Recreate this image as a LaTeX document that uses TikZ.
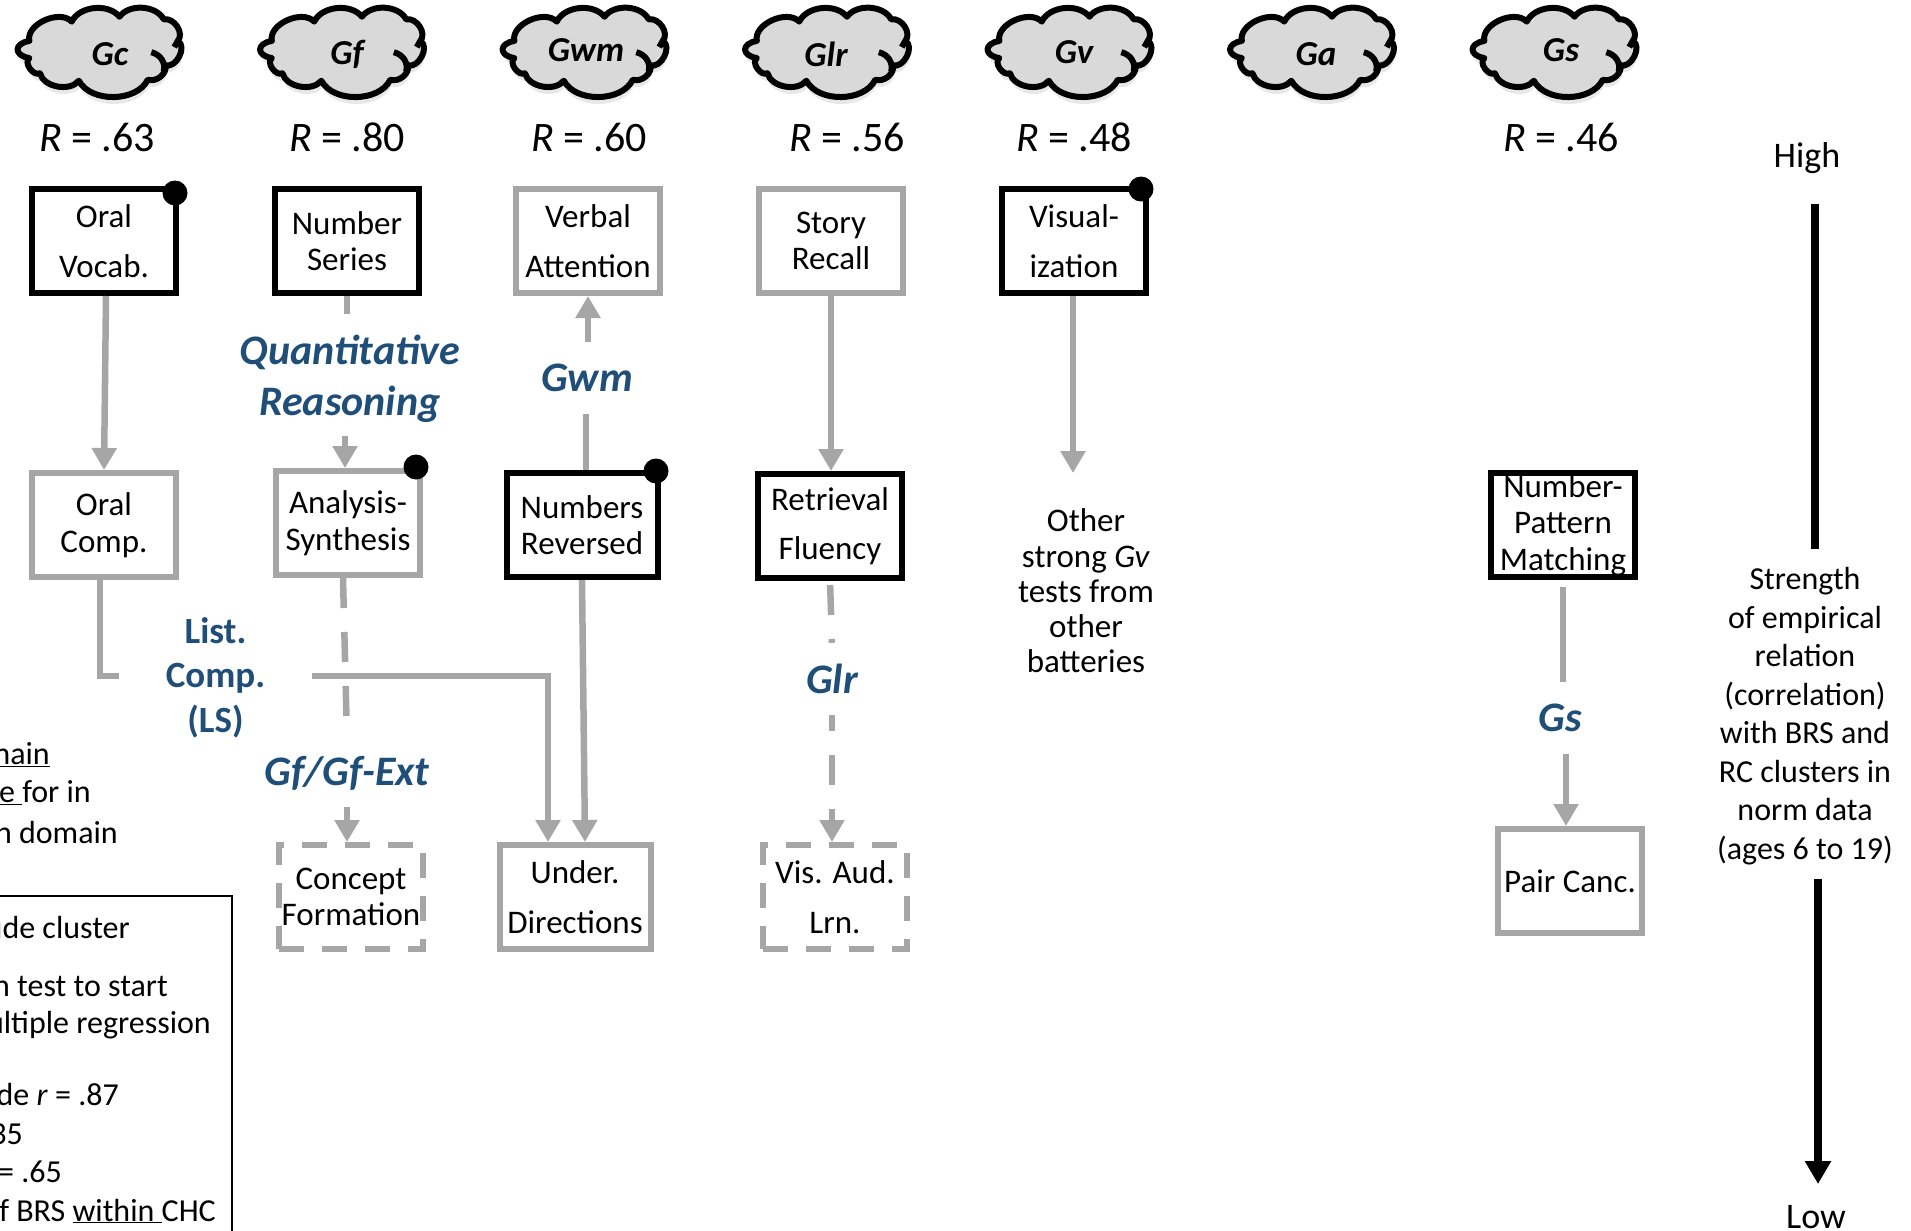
\documentclass[tikz,border=0pt]{standalone}
\usepackage{fontspec}
\setmainfont{Carlito}
\usetikzlibrary{arrows.meta}
\usetikzlibrary{calc}
\usetikzlibrary{shadows}
\definecolor{linegrey}{HTML}{A6A6A6}
\definecolor{labelblue}{HTML}{1F4E79}
\definecolor{cloudgrey}{HTML}{D9D9D9}
\newcommand\boxfont{\fontsize{33}{36.5}\selectfont}
\newcommand\sidefont{\fontsize{32}{38.5}\selectfont}
\def\xsep{242.5}
\def\cloudY{50}
\def\rvalY{137}
\def\wide{13pt}

\begin{document}
\begin{tikzpicture}[
    x=1pt,y=-1pt,
    line join=miter,
    arrowtip/.style={
      -{Triangle[length=22pt,width=24pt]}
    },
    testbox/.style={
      rectangle, fill=white, line width=6pt, align=center, inner sep=0pt,
      minimum width=144pt, minimum height=104pt, font=\boxfont
    },
    strongbox/.style={testbox, draw=black},
    greybox/.style={testbox, draw=linegrey},
    dashbox/.style={testbox, draw=linegrey, dash pattern=on 25pt off 18pt},
    conn/.style={draw=linegrey, line width=6.5pt},
    dashconn/.style={conn, dash pattern=on 30pt off 24pt},
    scaleline/.style={draw=black, line width=8.5pt},
    chclabel/.style={
      text=labelblue, align=center, inner sep=0pt, minimum height=72pt,
      font=\fontsize{42}{51}\selectfont\bfseries\itshape
    },
    cloudtext/.style={font=\fontsize{35}{40}\selectfont\bfseries\itshape, inner sep=0pt},
    rval/.style={font=\fontsize{42}{46}\selectfont, inner sep=0pt},
    sidetext/.style={font=\sidefont, inner sep=0pt},
    clipline/.style={font=\sidefont, inner sep=0pt, anchor=east},
    dotmark/.style={circle, fill=black, inner sep=0pt, minimum size=25pt},
    gcloud/.pic={
      \path[draw=black, line width=6pt, fill=cloudgrey, line join=round,
        drop shadow={shadow xshift=1pt, shadow yshift=-7pt, opacity=.18},
        drop shadow={shadow xshift=1pt, shadow yshift=-3pt, opacity=.35}]
        (-65.7,-9.3) to[bend left=75] (-25.7,-29.3)
        to[bend left=60] (19.3,-34.3)
        to[bend left=60] (61,-31.7)
        to[bend left=70] (74.3,-9.3)
        to[bend left=85] (62.7,15.7)
        to[bend left=60] (46,30.7)
        to[bend left=65] (-19,31.7)
        to[bend left=65] (-55.7,24)
        to[bend left=85] (-65.7,8.3)
        to[out=170,in=190,looseness=2.2] cycle;
      \draw[black, line width=6pt] (49.3,2.3) to[bend left=45] (61,22);
      \draw[black, line width=6pt] (74.3,-9.3) -- (71,-3);
    }
  ]
    \useasboundingbox (0,0) rectangle (1911,1231);
    \clip (0,0) rectangle (1911,1231);

    % factors
    \pic[xscale=1.06,yscale=.97] at (0*\xsep+99,\cloudY) {gcloud};
    \pic[xscale=1.06,yscale=.97] at (1*\xsep+99,\cloudY) {gcloud};
    \pic[xscale=1.06,yscale=.97] at (2*\xsep+99,\cloudY) {gcloud};
    \pic[xscale=1.06,yscale=.97] at (3*\xsep+99,\cloudY) {gcloud};
    \pic[xscale=1.06,yscale=.97] at (4*\xsep+99,\cloudY) {gcloud};
    \pic[xscale=1.06,yscale=.97] at (5*\xsep+99,\cloudY) {gcloud};
    \pic[xscale=1.06,yscale=.97] at (6*\xsep+99,\cloudY) {gcloud};
    \node[cloudtext] (NameGc)  at (110,54)  {Gc};
    \node[cloudtext] (NameGf)  at (347,54)  {Gf};
    \node[cloudtext] (NameGwm) at (586,50)  {Gwm};
    \node[cloudtext] (NameGlr) at (826,54)  {Glr};
    \node[cloudtext] (NameGv)  at (1074,52) {Gv};
    \node[cloudtext] (NameGa)  at (1316,54) {Ga};
    \node[cloudtext] (NameGs)  at (1561,50) {Gs};

    \node[rval] (RGc)  at (97,\rvalY)   {\textit{R} = .63};
    \node[rval] (RGf)  at (347,\rvalY)  {\textit{R} = .80};
    \node[rval] (RGwm) at (589,\rvalY)  {\textit{R} = .60};
    \node[rval] (RGlr) at (847,\rvalY)  {\textit{R} = .56};
    \node[rval] (RGv)  at (1074,\rvalY) {\textit{R} = .48};
    \node[rval] (RGs)  at (1561,\rvalY) {\textit{R} = .46};

    % first row
    \node[strongbox] (OralVocab) at (104,241)  {Oral\\[\wide]Vocab.};
    \node[strongbox] (NumSeries) at (347,241)  {Number\\Series};
    \node[greybox]   (VerbAtt)   at (588,241)  {Verbal\\[\wide]Attention};
    \node[greybox]   (StoryRec)  at (831,241)  {Story\\Recall};
    \node[strongbox] (Visual)    at (1074,241) {Visual-\\[\wide]ization};

    % second row
    \node[greybox]   (OralComp) at (104,525)  {Oral\\Comp.};
    \node[greybox]   (Analysis) at (348,523)  {Analysis-\\Synthesis};
    \node[strongbox, minimum width=151pt] (NumRev) at (582,525) {Numbers\\Reversed};
    \node[strongbox] (RetrFlu)  at (830,526)  {Retrieval\\[\wide]Fluency};
    \node[strongbox] (NumPat)   at (1563,525) {Number-\\Pattern\\Matching};

    % third row
    \node[dashbox] (Concept)  at (351,897) {Concept\\Formation};
    \node[greybox, minimum width=151pt] (UnderDir) at (575,897) {Under.\\[\wide]Directions};
    \node[dashbox] (VisAud)   at (835,897) {Vis. Aud.\\[\wide]Lrn.};
    \node[greybox] (PairCanc) at (1570,881) {Pair Canc.};

    \node[dotmark] (DotA) at (175,193)  {};
    \node[dotmark] (DotB) at (1141,189) {};
    \node[dotmark] (DotC) at (416,467)  {};
    \node[dotmark] (DotD) at (656,471)  {};

    % labels that stand in the lines
    \node[chclabel, minimum height=121pt] (QuantReas) at (350,379) {Quantitative\\Reasoning};
    \node[chclabel] (LabGwm) at (587,378)  {Gwm};
    \node[chclabel, minimum height=68pt] (GfExt)  at (347,773)  {Gf/Gf-Ext};
    \node[chclabel] (LabGlr) at (832,679)  {Glr};
    \node[chclabel] (LabGs)  at (1560,718) {Gs};
    \node[chclabel, font=\fontsize{37}{44.5}\selectfont\bfseries, minimum width=193pt]
      (ListComp) at (215.5,676) {\rule{0pt}{29pt}List.\\Comp.\\(LS)};

    \coordinate (GvEnd) at (1073,473);
    \coordinate (OralOut) at ($(OralComp.south)+(-4,0)$);

    \draw[conn,arrowtip] ($(OralVocab.south)+(2,0)$) -- (OralComp.north);
    \draw[conn] (NumSeries.south) -- ($(NumSeries.south |- QuantReas.north)+(0,-4)$);
    \draw[conn,arrowtip] ($(QuantReas.south -| Analysis.north)+(-3,-4)$) -- ($(Analysis.north)+(-3,0)$);
    \draw[conn] ($(NumRev.north)+(4,0)$) -- ($(LabGwm.south -| NumRev.north)+(4,0)$);
    \draw[conn,arrowtip] (LabGwm.north -| VerbAtt.south) -- (VerbAtt.south);
    \draw[conn,arrowtip] (StoryRec.south) -- ($(RetrFlu.north)+(1,0)$);
    \draw[conn,arrowtip] (Visual.south -| GvEnd) -- (GvEnd);

    \draw[conn] (OralOut) |- (ListComp.west);
    \draw[conn,arrowtip] (ListComp.east) -| ($(UnderDir.north)+(-27,0)$);
    \draw[dashconn,shorten >=19pt] ($(Analysis.south)+(-5,0)$) -- (GfExt.north);
    \draw[conn,arrowtip] (GfExt.south) -- (GfExt.south |- Concept.north);
    \draw[conn,arrowtip] (NumRev.south) -- ($(UnderDir.north)+(10,0)$);

    \draw[dashconn,shorten <=4pt] (RetrFlu.south) -- (LabGlr.north);
    \draw[dashconn,dash phase=14pt,arrowtip] (LabGlr.south) -- (LabGlr.south |- VisAud.north);

    \draw[conn,shorten <=7pt] (NumPat.south) -- (NumPat.south |- LabGs.north);
    \draw[conn,arrowtip] ($(LabGs.south)+(6,0)$) -- ($(LabGs.south |- PairCanc.north)+(6,0)$);

    \node[sidetext, align=center, font=\fontsize{33}{35.3}\selectfont] (OtherGv) at (1086,591)
      {Other\\strong \textit{Gv}\\tests from\\other\\batteries};

    % scale at the right
    \node[sidetext, font=\fontsize{36}{40}\selectfont] (High) at (1807,158) {High};
    \node[sidetext, font=\fontsize{36}{40}\selectfont] (Low)  at (1816,1217) {Low};
    \node[sidetext, align=center, minimum height=330pt] (Strength) at (1805,714)
      {\rule{0pt}{26pt}Strength\\of empirical\\relation\\(correlation)\\with BRS and\\RC clusters in\\norm data\\(ages 6 to 19)};
    \coordinate (ScaleTop) at (1815,204);
    \coordinate (ScaleEnd) at (1818,1184);
    \draw[scaleline] (ScaleTop) -- (ScaleTop |- Strength.north);
    \draw[scaleline,-{Triangle[length=23pt,width=25pt]}] (ScaleEnd |- Strength.south) -- (ScaleEnd);

    % what is left of the notes at the left edge
    \node[clipline] (NoteA) at (50,755)  {\underline{main}};
    \node[clipline] (NoteB) at (91,793)  {\underline{e\ }for in};
    \node[clipline] (NoteC) at (118,832) {h domain};

    \node[draw=black, line width=2.5pt, minimum width=272pt, minimum height=400pt, inner sep=0pt]
      (Legend) at (96,1096) {};
    \node[clipline] (LegA) at (130,927)  {ude cluster};
    \node[clipline] (LegB) at (168,986)  {n test to start};
    \node[clipline] (LegC) at (211,1025) {ultiple regression};
    \node[clipline] (LegD) at (119,1095) {de \textit{r} = .87};
    \node[clipline] (LegE) at (23,1134)  {35};
    \node[clipline] (LegF) at (62,1172)  {= .65};
    \node[clipline] (LegG) at (216,1211) {f BRS \underline{within\ }CHC};
\end{tikzpicture}
\end{document}
